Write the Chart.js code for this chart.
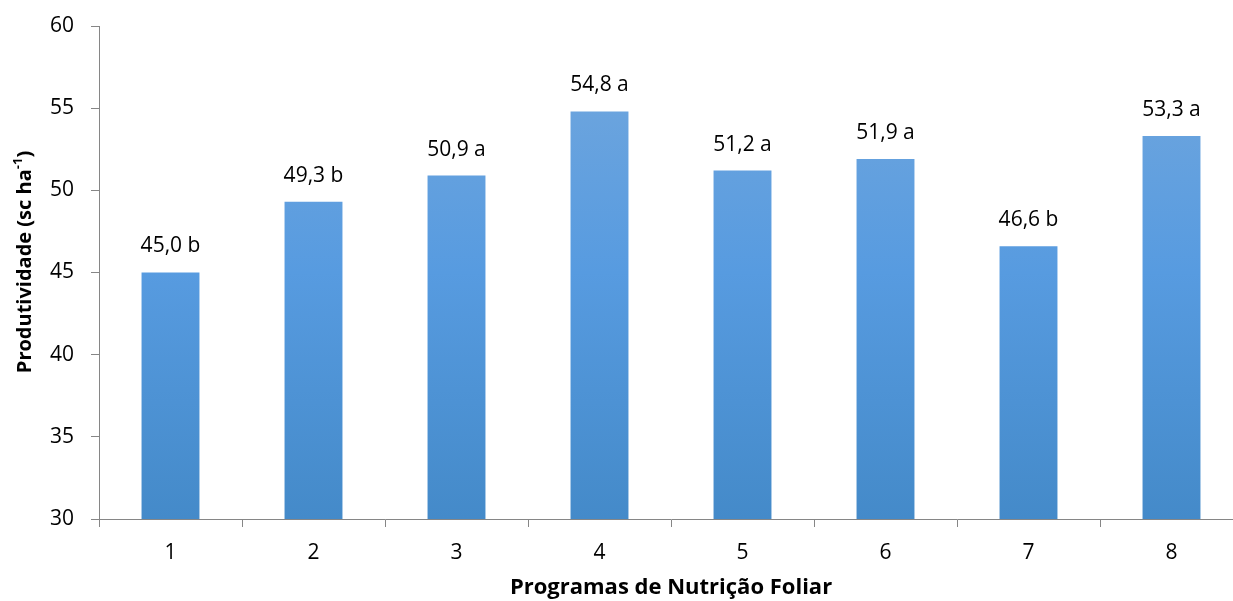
<!DOCTYPE html>
<html>
<head>
<meta charset="utf-8">
<script src="https://cdn.jsdelivr.net/npm/chart.js@4.4.1/dist/chart.umd.min.js"></script>
<style>
html,body{margin:0;padding:0;background:#fff;overflow:hidden;}
#wrap{width:1245px;height:601px;position:relative;}
</style>
</head>
<body>
<div id="wrap"><canvas id="c"></canvas></div>
<script>
const categories = ['1','2','3','4','5','6','7','8'];
const values = [45.0, 49.3, 50.9, 54.8, 51.2, 51.9, 46.6, 53.3];
const letters = ['b','b','a','a','a','a','b','a'];
const yTicks = [30, 35, 40, 45, 50, 55, 60];

const FONT = '"Open Sans", Lato, sans-serif';
const AXIS = '#868686';

const labelPlugin = {
  id: 'barLabels',
  afterDatasetsDraw(chart) {
    const ctx = chart.ctx;
    const meta = chart.getDatasetMeta(0);
    ctx.save();
    ctx.font = '21px ' + FONT;
    ctx.fillStyle = '#000';
    ctx.textAlign = 'center';
    ctx.textBaseline = 'middle';
    meta.data.forEach((bar, i) => {
      const txt = values[i].toFixed(1).replace('.', ',') + ' ' + letters[i];
      ctx.fillText(txt, bar.x, bar.y - 26);
    });
    ctx.restore();
  }
};

const yTitlePlugin = {
  id: 'yTitle',
  afterDraw(chart) {
    const ctx = chart.ctx;
    ctx.save();
    ctx.translate(25, 262);
    ctx.rotate(-Math.PI / 2);
    ctx.fillStyle = '#000';
    ctx.textBaseline = 'middle';
    const main = 'Produtividade (sc ha';
    const sup = '-1';
    const end = ')';
    ctx.font = 'bold 20px ' + FONT;
    const w1 = ctx.measureText(main).width;
    const w3 = ctx.measureText(end).width;
    ctx.font = 'bold 13px ' + FONT;
    const w2 = ctx.measureText(sup).width;
    const total = w1 + w2 + w3;
    let x = -total / 2;
    ctx.textAlign = 'left';
    ctx.font = 'bold 20px ' + FONT;
    ctx.fillText(main, x, 0);
    x += w1;
    ctx.font = 'bold 13px ' + FONT;
    ctx.fillText(sup, x, -7);
    x += w2;
    ctx.font = 'bold 20px ' + FONT;
    ctx.fillText(end, x, 0);
    ctx.restore();
  }
};

function barGradient(context) {
  const chart = context.chart;
  const a = chart.chartArea;
  if (!a) return '#5b9bd5';
  const g = chart.ctx.createLinearGradient(0, a.top, 0, a.bottom);
  g.addColorStop(0, '#74a8dd');
  g.addColorStop(0.5, '#579be0');
  g.addColorStop(1, '#448ac9');
  return g;
}

new Chart(document.getElementById('c'), {
  type: 'bar',
  data: {
    labels: categories,
    datasets: [{
      data: values,
      backgroundColor: barGradient,
      borderWidth: 0,
      barPercentage: 0.405,
      categoryPercentage: 1.0
    }]
  },
  options: {
    responsive: true,
    maintainAspectRatio: false,
    animation: false,
    events: [],
    layout: { padding: { left: 0, right: 2, top: 26, bottom: 0 } },
    plugins: {
      legend: { display: false },
      tooltip: { enabled: false },
      title: { display: false }
    },
    scales: {
      x: {
        offset: true,
        grid: { display: true, drawOnChartArea: false, drawTicks: true, tickLength: 8, color: AXIS, lineWidth: 1 },
        border: { display: true, color: AXIS, width: 1 },
        ticks: { color: '#000', font: { family: FONT, size: 21 }, padding: 13, maxRotation: 0 },
        title: { display: true, text: 'Programas de Nutrição Foliar', color: '#000', font: { family: FONT, size: 22, weight: 'bold' }, padding: { top: 0, bottom: 0 } },
        afterFit(scale) { scale.height = 82; scale.paddingLeft = 0; scale.paddingRight = 0; }
      },
      y: {
        min: 30,
        max: 60,
        afterBuildTicks(scale) { scale.ticks = yTicks.map(v => ({ value: v })); },
        grid: { display: true, drawOnChartArea: false, drawTicks: true, tickLength: 8, color: AXIS, lineWidth: 1 },
        border: { display: true, color: AXIS, width: 1 },
        ticks: { color: '#000', font: { family: FONT, size: 21 }, padding: 17 },
        afterFit(scale) { scale.width = 99; scale.paddingTop = 0; scale.paddingBottom = 0; }
      }
    }
  },
  plugins: [labelPlugin, yTitlePlugin]
});
</script>
</body>
</html>
